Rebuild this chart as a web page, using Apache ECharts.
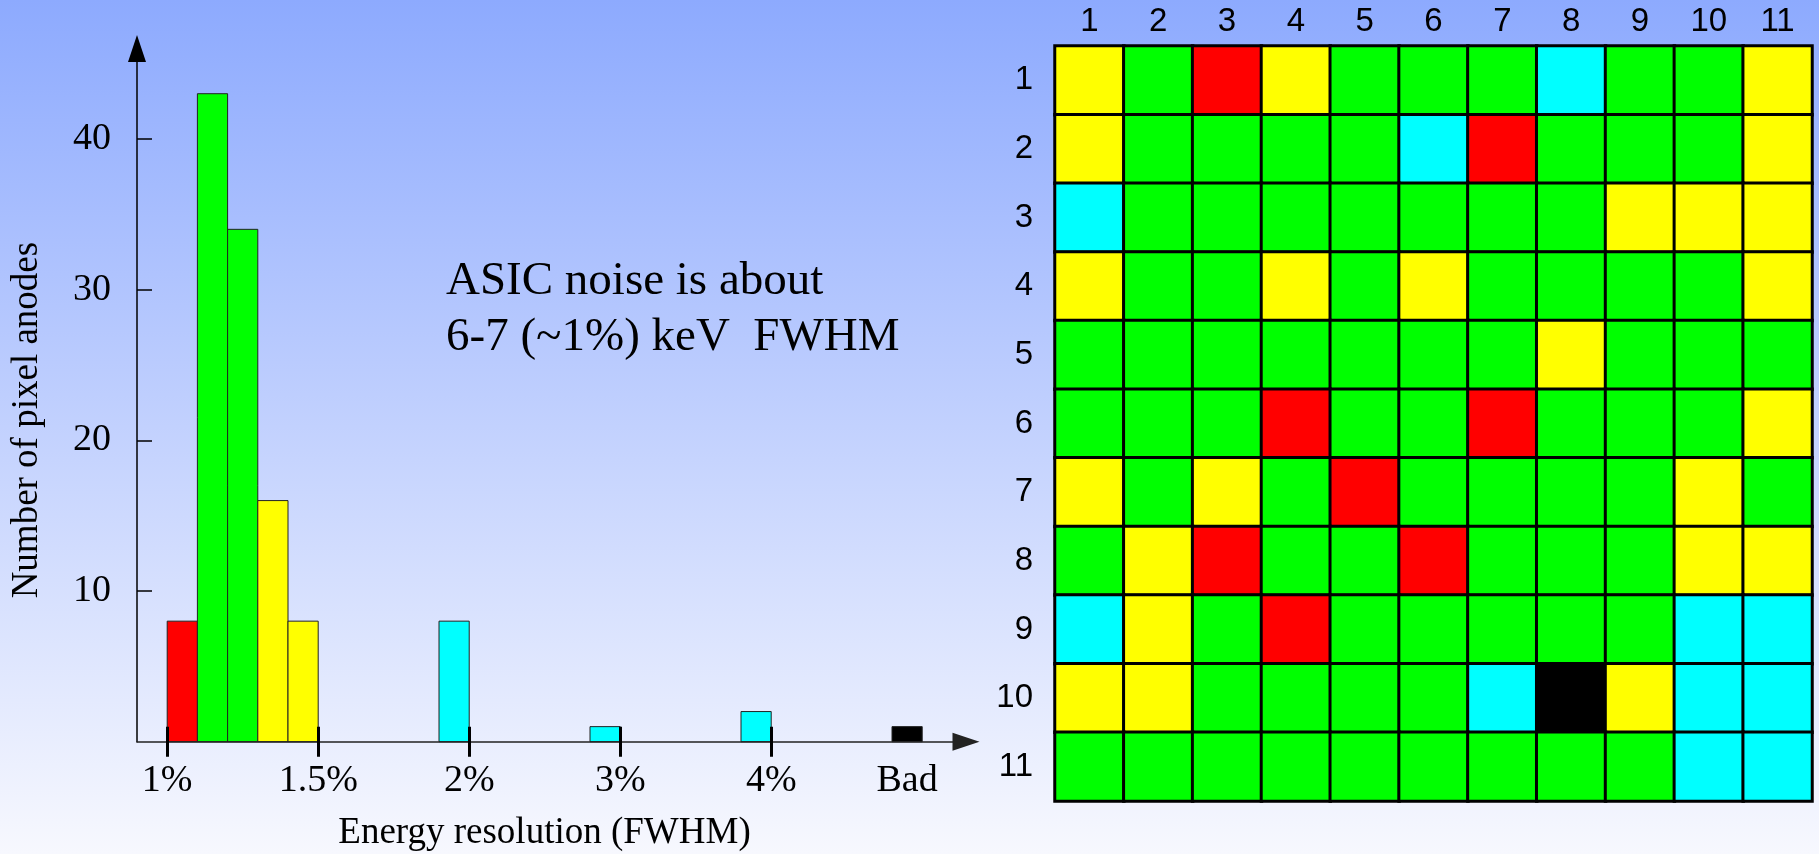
<!DOCTYPE html>
<html><head><meta charset="utf-8">
<script src="https://cdn.jsdelivr.net/npm/echarts@6/dist/echarts.min.js"></script>
<style>html,body{margin:0;padding:0;width:1819px;height:854px;overflow:hidden}#c{width:1819px;height:854px}</style>
</head><body><div id="c"></div>
<script>
// Histogram of energy resolution (positions in tick units: 0=1%,1=1.5%,2=2%,3=3%,4=4%,5=Bad)
const binStart = [0, 0.2, 0.4, 0.6, 0.8, 1.8, 2.8, 3.8, 4.8];
const binEnd   = [0.2, 0.4, 0.6, 0.8, 1.0, 2.0, 3.0, 4.0, 5.0];
const binCount = [8, 43, 34, 16, 8, 8, 1, 2, 1];
const binClass = ['red', 'green', 'green', 'yellow', 'yellow', 'cyan', 'cyan', 'cyan', 'bad'];
const xTickPos = [0, 1, 2, 3, 4];
const xLabelPos = [0, 1, 2, 3, 4, 4.9];
const xLabels = ['1%', '1.5%', '2%', '3%', '4%', 'Bad'];
const yTicks = [10, 20, 30, 40];

// Pixel map (rows 1..11, columns 1..11)
const pixelCols = ['1','2','3','4','5','6','7','8','9','10','11'];
const pixelRows = ['1','2','3','4','5','6','7','8','9','10','11'];
const pixelMap = [
  'YGRYGGGCGGY',
  'YGGGGCRGGGY',
  'CGGGGGGGYYY',
  'YGGYGYGGGGY',
  'GGGGGGGYGGG',
  'GGGRGGRGGGY',
  'YGYGRGGGGYG',
  'GYRGGRGGGYY',
  'CYGRGGGGGCC',
  'YYGGGGCBYCC',
  'GGGGGGGGGCC'
];
const letterClass = {R: 'red', G: 'green', Y: 'yellow', C: 'cyan', B: 'bad'};
const classOrder = ['red', 'green', 'yellow', 'cyan', 'bad'];
const classColors = {red: '#ff0000', green: '#00ff00', yellow: '#ffff00', cyan: '#00ffff', bad: '#000000'};

const heatData = [];
pixelMap.forEach((row, r) => {
  row.split('').forEach((ch, c) => {
    heatData.push([c, r, classOrder.indexOf(letterClass[ch])]);
  });
});

const serif = '"Liberation Serif", "Times New Roman", serif';
const sans = '"Liberation Sans", Arial, sans-serif';

const chart = echarts.init(document.getElementById('c'), null, {renderer: 'canvas'});
chart.setOption({
  animation: false,
  backgroundColor: {
    type: 'linear', x: 0, y: 0, x2: 0, y2: 1,
    colorStops: [{offset: 0, color: '#8daafe'}, {offset: 1, color: '#f7f8fe'}]
  },
  grid: [
    {left: 137, top: 48.5, width: 829, height: 693.2, containLabel: false, outerBoundsMode: 'none'},
    {left: 1055, top: 46, width: 757, height: 755, containLabel: false, outerBoundsMode: 'none'}
  ],
  xAxis: [
    {
      type: 'value', gridIndex: 0, min: -0.2, max: 5.29, position: 'bottom', z: 5,
      splitLine: {show: false},
      axisLine: {show: true, onZero: false, symbol: ['none', 'triangle'], symbolSize: [18, 27],
        lineStyle: {color: '#222', width: 1.5}},
      axisTick: {show: true, inside: false, length: 15, customValues: xTickPos,
        lineStyle: {color: '#000', width: 3}},
      axisLabel: {show: true, customValues: xLabelPos, margin: 20,
        formatter: v => { const i = xLabelPos.findIndex(p => Math.abs(p - v) < 1e-6); return i >= 0 ? xLabels[i] : ''; },
        fontFamily: serif, fontSize: 38, color: '#000'},
      name: 'Energy resolution (FWHM)', nameLocation: 'middle', nameGap: 73,
      nameTextStyle: {fontFamily: serif, fontSize: 37, color: '#000', padding: [0, 14, 0, 0]}
    },
    {
      type: 'value', gridIndex: 0, min: -0.2, max: 5.29, position: 'bottom', z: 5,
      splitLine: {show: false},
      axisLine: {show: false, onZero: false},
      axisTick: {show: true, inside: true, length: 15, customValues: xTickPos,
        lineStyle: {color: '#000', width: 3}},
      axisLabel: {show: false}
    },
    {
      type: 'category', gridIndex: 1, data: pixelCols, position: 'top',
      axisLine: {show: false}, axisTick: {show: false}, splitLine: {show: false},
      axisLabel: {fontFamily: sans, fontSize: 33, color: '#000', margin: 8}
    }
  ],
  yAxis: [
    {
      type: 'value', gridIndex: 0, min: 0, max: 46, z: 5,
      splitLine: {show: false},
      axisLine: {show: true, onZero: false, symbol: ['none', 'triangle'], symbolSize: [18, 27],
        lineStyle: {color: '#000', width: 1.5}},
      axisTick: {show: true, inside: true, length: 15, customValues: yTicks,
        lineStyle: {color: '#000', width: 1.5}},
      axisLabel: {customValues: yTicks, margin: 26, fontFamily: serif, fontSize: 38, color: '#000'},
      name: 'Number of pixel anodes', nameLocation: 'middle', nameGap: 91,
      nameTextStyle: {fontFamily: serif, fontSize: 37, color: '#000', padding: [0, 50, 0, 0]}
    },
    {
      type: 'category', gridIndex: 1, data: pixelRows, inverse: true,
      axisLine: {show: false}, axisTick: {show: false}, splitLine: {show: false},
      axisLabel: {fontFamily: sans, fontSize: 33, color: '#000', margin: 22, align: 'right'}
    }
  ],
  visualMap: {
    type: 'piecewise', show: false, seriesIndex: 1, dimension: 2,
    pieces: classOrder.map((c, i) => ({value: i, color: classColors[c]}))
  },
  graphic: [{
    type: 'text', left: 446, top: 254, z: 10,
    style: {text: 'ASIC noise is about\n6-7 (~1%) keV  FWHM', font: '47px ' + serif, fill: '#000', lineHeight: 56}
  }],
  series: [
    {
      type: 'custom', xAxisIndex: 0, yAxisIndex: 0, z: 1,
      data: binStart.map((s, i) => [s, binEnd[i], binCount[i]]),
      encode: {x: [0, 1], y: 2},
      renderItem: (params, api) => {
        const p0 = api.coord([api.value(0), api.value(2)]);
        const p1 = api.coord([api.value(1), 0]);
        return {type: 'rect', shape: {x: p0[0], y: p0[1], width: p1[0] - p0[0], height: p1[1] - p0[1]},
          style: {fill: classColors[binClass[params.dataIndex]], stroke: '#222', lineWidth: 1}};
      }
    },
    {
      type: 'heatmap', xAxisIndex: 2, yAxisIndex: 1,
      data: heatData,
      itemStyle: {borderColor: '#000', borderWidth: 3},
      emphasis: {disabled: true}
    }
  ]
});
</script></body></html>
